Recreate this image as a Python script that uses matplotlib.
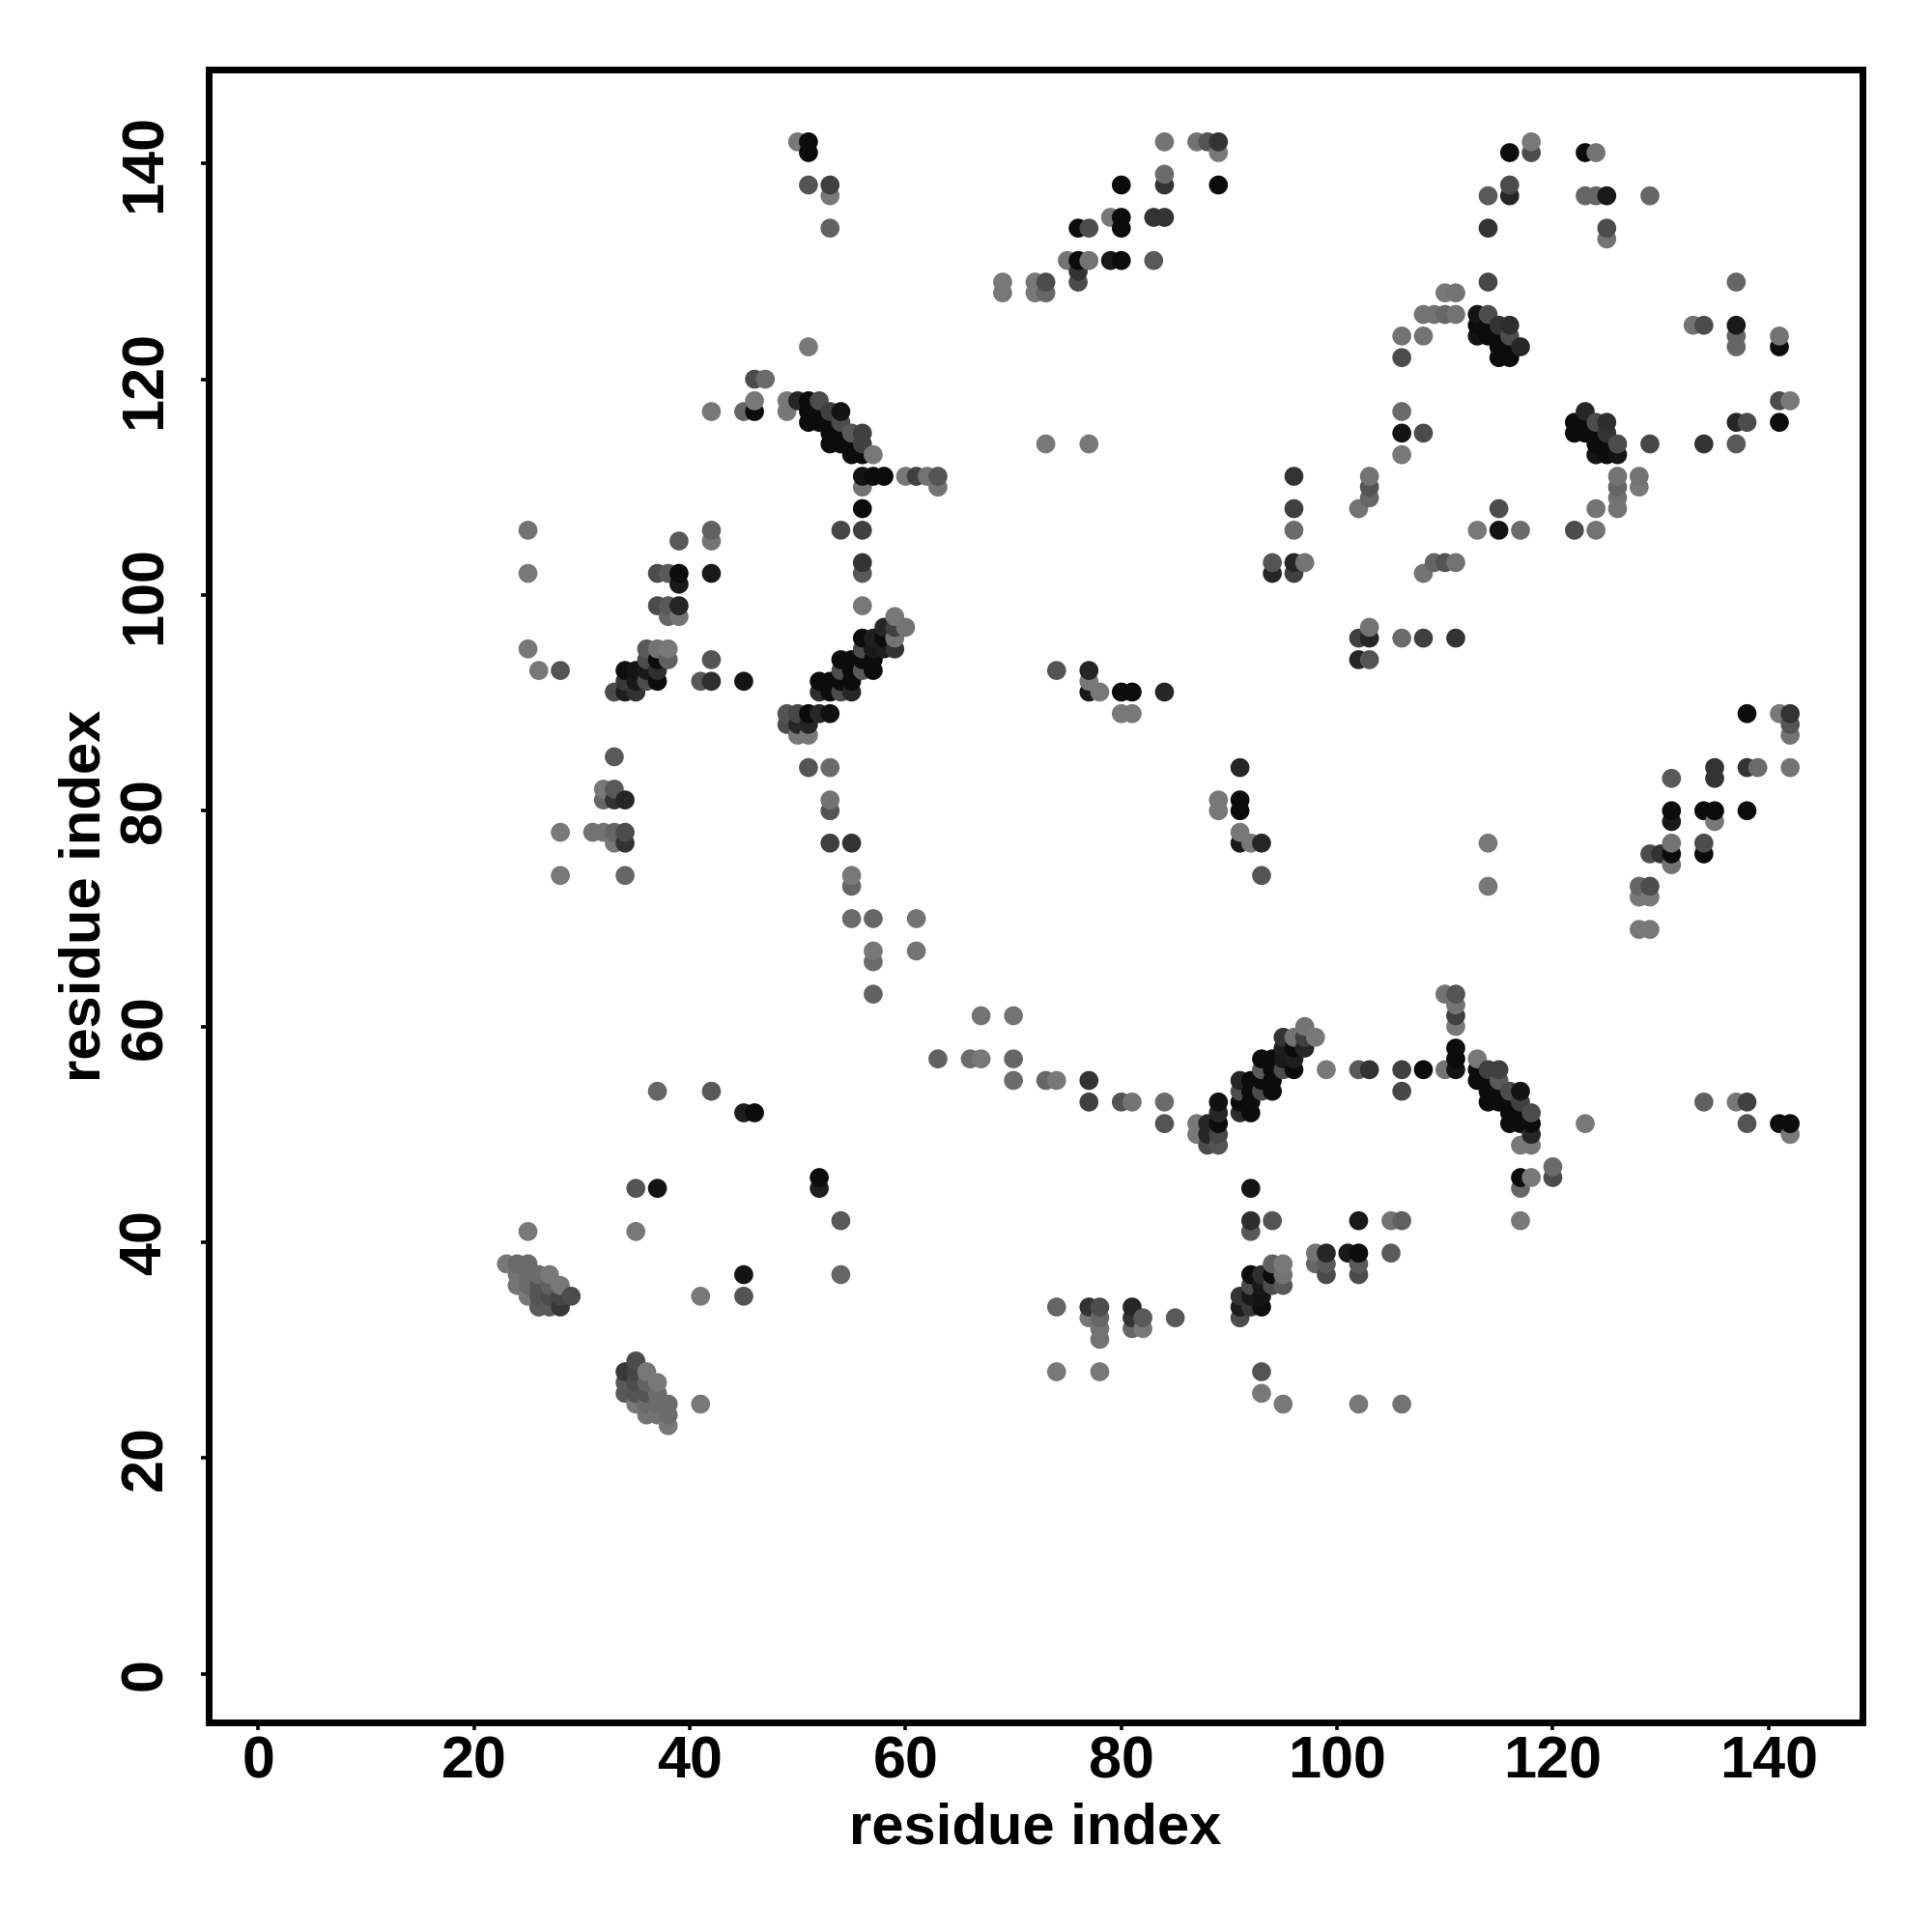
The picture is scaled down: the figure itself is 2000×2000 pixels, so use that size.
import matplotlib
matplotlib.use("Agg")
import matplotlib.pyplot as plt
import numpy as np

# contact pairs (res_a < res_b), one line per res_a, the map is symmetric
res_a = (
    [23] + [24] * 3 + [25] * 8 + [26] * 5 + [27] * 4 + [28] * 6 + [29] + [31]
    + [32] * 3 + [33] * 6 + [34] * 7 + [35] * 5 + [36] * 4 + [37] * 8 + [38] * 5
    + [39] * 5 + [41] + [42] * 7 + [45] * 3 + [46] * 4 + [47] + [49] * 4 + [50] * 5
    + [51] * 11 + [52] * 6 + [53] * 14 + [54] * 9 + [55] * 11 + [56] * 14 + [57] * 10
    + [58] * 4 + [59] * 4 + [60] * 2 + [61] * 3 + [62] + [63] * 2 + [69] * 2 + [72] * 2
    + [73] * 3 + [74] + [75] + [76] * 4 + [77] * 6 + [78] + [79] * 2 + [80] * 6
    + [81] * 2 + [83] * 2 + [84] * 5 + [87] + [88] + [89] * 3 + [94] * 2 + [96] * 5
    + [97] + [102] + [103] * 3 + [106] * 5 + [108] * 3 + [109] + [110] * 2 + [111] * 2
    + [113] * 3 + [114] * 6 + [115] * 4 + [116] * 7 + [117] + [118] * 2 + [123] * 2
    + [124] * 2 + [125] * 3 + [129]
)
res_b = [
    38,
    36, 37, 38,
    35, 36, 37, 38, 41, 95, 102, 106,
    34, 35, 36, 37, 93,
    34, 35, 36, 37,
    34, 35, 36, 74, 78, 93,
    35,
    78,
    78, 81, 82,
    77, 78, 81, 82, 85, 91,
    74, 77, 78, 81, 91, 92, 93,
    41, 45, 91, 92, 93,
    92, 93, 94, 95,
    45, 54, 92, 93, 94, 95, 99, 102,
    94, 95, 98, 99, 102,
    98, 99, 101, 102, 105,
    92,
    54, 92, 94, 102, 105, 106, 117,
    52, 92, 117,
    52, 117, 118, 120,
    120,
    88, 89, 117, 118,
    87, 88, 89, 118, 142,
    84, 87, 88, 89, 116, 117, 118, 123, 138, 141, 142,
    89, 91, 92, 116, 117, 118,
    77, 80, 81, 84, 89, 91, 92, 114, 115, 116, 117, 134, 137, 138,
    91, 92, 93, 94, 106, 114, 115, 116, 117,
    70, 73, 74, 77, 91, 92, 93, 94, 113, 114, 115,
    93, 94, 95, 96, 99, 102, 103, 106, 108, 110, 111, 113, 114, 115,
    63, 66, 67, 70, 93, 94, 95, 96, 111, 113,
    95, 96, 97, 111,
    95, 96, 97, 98,
    97, 111,
    67, 70, 111,
    111,
    110, 111,
    128, 129,
    128, 129,
    114, 128, 129,
    93,
    131,
    129, 130, 131, 134,
    91, 92, 93, 114, 131, 134,
    91,
    131, 135,
    89, 91, 131, 134, 135, 138,
    89, 91,
    131, 135,
    91, 135, 138, 139, 142,
    142,
    142,
    138, 141, 142,
    102, 103,
    102, 103, 106, 108, 111,
    103,
    108,
    109, 110, 111,
    113, 115, 117, 122, 124,
    115, 124, 126,
    126,
    126, 128,
    126, 128,
    124, 125, 126,
    124, 125, 126, 129, 134, 137,
    122, 123, 124, 125,
    122, 123, 124, 125, 137, 138, 141,
    123,
    141, 142,
    137, 141,
    137, 141,
    133, 134, 137,
    137,
]
shade = [
    .47,
    .45, .45, .42,
    .47, .42, .42, .42, .47, .47, .47, .45,
    .35, .33, .33, .42, .47,
    .35, .30, .38, .47,
    .22, .27, .47, .47, .47, .33,
    .30,
    .45,
    .45, .40, .47,
    .47, .40, .20, .35, .35, .30,
    .40, .20, .30, .15, .12, .22, .06,
    .47, .33, .20, .10, .08,
    .30, .10, .30, .35,
    .08, .40, .05, .18, .05, .45, .30, .30,
    .38, .47, .40, .35, .35,
    .45, .15, .10, .05, .35,
    .35,
    .35, .18, .33, .10, .45, .38, .47,
    .12, .08, .40,
    .05, .05, .47, .30,
    .42,
    .30, .33, .47, .47,
    .47, .15, .28, .15, .47,
    .33, .47, .15, .05, .05, .05, .05, .47, .33, .05, .05,
    .15, .18, .05, .05, .05, .30,
    .25, .33, .45, .42, .07, .05, .05, .05, .05, .05, .25, .38, .47, .25,
    .30, .05, .30, .05, .28, .05, .05, .30, .08,
    .42, .40, .47, .20, .15, .05, .05, .05, .05, .05, .35,
    .35, .05, .30, .05, .47, .35, .20, .25, .05, .45, .08, .05, .25, .25,
    .38, .42, .47, .40, .05, .05, .10, .12, .05, .47,
    .12, .05, .15, .05,
    .20, .45, .25, .47,
    .45, .47,
    .45, .45, .25,
    .45,
    .45, .33,
    .47, .47,
    .47, .47,
    .47, .40, .30,
    .33,
    .45,
    .30, .20, .05, .05,
    .10, .47, .15, .47, .45, .30,
    .47,
    .10, .47,
    .47, .05, .05, .05, .05, .05,
    .47, .05,
    .35, .20,
    .15, .20, .20, .42, .45,
    .45,
    .33,
    .05, .47, .20,
    .15, .33,
    .25, .15, .42, .25, .20,
    .45,
    .45,
    .40, .33, .45,
    .47, .08, .42, .30, .45,
    .30, .45, .45,
    .45,
    .40, .47,
    .45, .45,
    .08, .05, .08,
    .05, .05, .30, .28, .20, .35,
    .05, .05, .05, .20,
    .05, .05, .30, .18, .15, .30, .05,
    .15,
    .30, .47,
    .40, .05,
    .40, .45,
    .45, .30, .10,
    .40,
]

a = np.array(res_a)
b = np.array(res_b)
g = np.array(shade)

x = np.concatenate([a, b])
y = np.concatenate([b, a])
c = np.concatenate([g, g])
order = np.lexsort((y, x))

ticks = [0, 20, 40, 60, 80, 100, 120, 140]

plt.rcParams["font.family"] = ["Liberation Sans", "DejaVu Sans"]
plt.rcParams["font.weight"] = "bold"

fig = plt.figure(figsize=(10, 10), dpi=200)
ax = fig.add_axes([216 / 2000, 1 - 1783 / 2000, (1928 - 216) / 2000, (1783 - 72) / 2000])
ax.scatter(x[order], y[order], s=50, c=c[order], cmap="gray", vmin=0, vmax=1, linewidths=0, zorder=3)

ax.set_xlim(-4.6, 148.7)
ax.set_ylim(-4.5, 148.7)
ax.set_xticks(ticks)
ax.set_yticks(ticks)
ax.tick_params(length=3, width=1.3, labelsize=22)
ax.tick_params(axis="x", pad=1.7)
ax.tick_params(axis="y", pad=10)
for t in ax.get_yticklabels():
    t.set_rotation(90)
    t.set_va("center")
for s in ax.spines.values():
    s.set_linewidth(2.5)

ax.set_xlabel("residue index", fontsize=21.5, fontweight="bold", labelpad=4.5)
ax.set_ylabel("residue index", fontsize=21.5, fontweight="bold", labelpad=2.8)

fig.savefig("out.png", dpi=200, facecolor="white")
